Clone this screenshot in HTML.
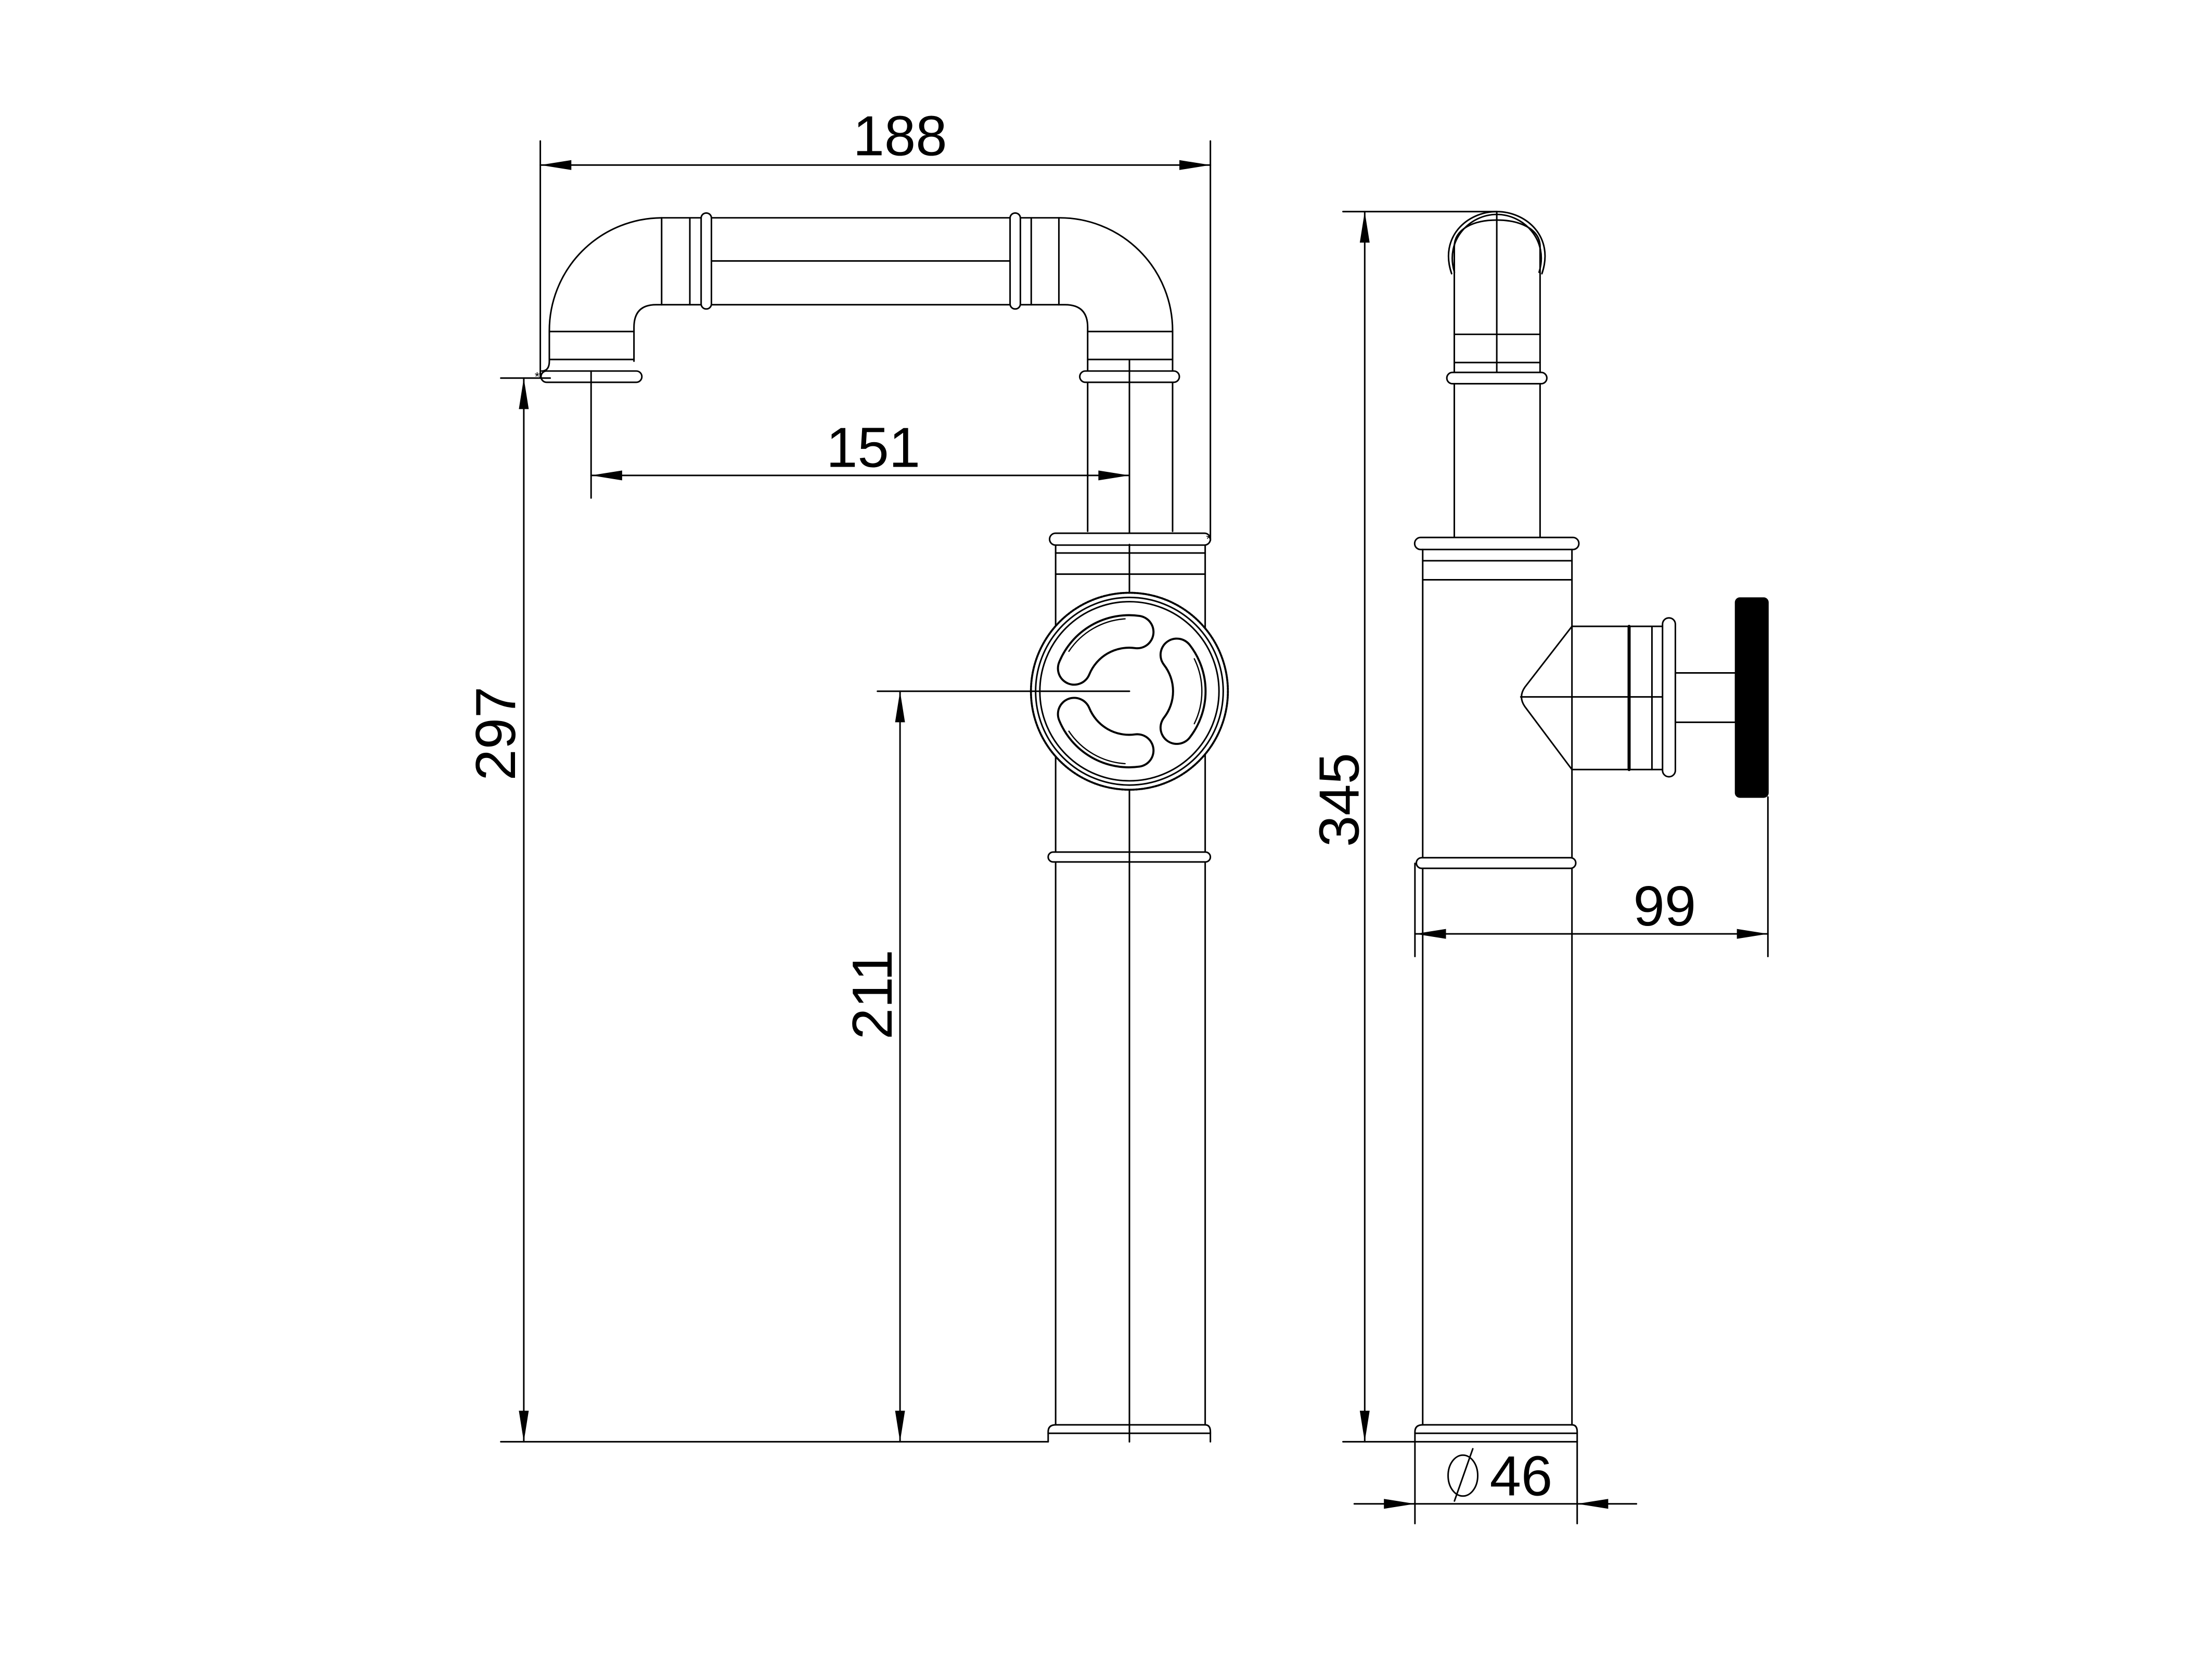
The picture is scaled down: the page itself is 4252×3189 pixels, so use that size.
<!DOCTYPE html>
<html><head><meta charset="utf-8"><style>
html,body{margin:0;padding:0;background:#fff;}
svg{display:block;}
text{font-family:"Liberation Sans",Arial,sans-serif;fill:#000;}
</style></head><body>
<svg width="4252" height="3189" viewBox="0 0 1568 1176" xmlns="http://www.w3.org/2000/svg">
<rect width="1568" height="1176" fill="#fff"/>
<g fill="none" stroke="#000" stroke-width="1.1" stroke-linejoin="round" stroke-linecap="round">
<line x1="383" y1="100" x2="383" y2="268"/>
<line x1="858" y1="100" x2="858" y2="383"/>
<line x1="383" y1="117" x2="858" y2="117"/>
<line x1="469" y1="154.4" x2="750.6" y2="154.4"/>
<line x1="469" y1="216" x2="750.6" y2="216"/>
<line x1="504.3" y1="185" x2="716" y2="185"/>
<line x1="469" y1="154.4" x2="469" y2="216"/>
<line x1="489" y1="154.4" x2="489" y2="216"/>
<line x1="731" y1="154.4" x2="731" y2="216"/>
<line x1="750.6" y1="154.4" x2="750.6" y2="216"/>
<rect x="497" y="151" width="7.3" height="68" rx="3.6" fill="#fff"/>
<rect x="716" y="151" width="7.3" height="68" rx="3.6" fill="#fff"/>
<path d="M469,154.4 A80,80 0 0 0 389.4,234.4 L389.4,256 Q389.4,263 384,263"/>
<path d="M449.4,256 L449.4,232 Q449.4,216 465,216 L469,216"/>
<line x1="389.4" y1="235" x2="449.4" y2="235"/>
<line x1="389.4" y1="254.8" x2="449.4" y2="254.8"/>
<rect x="383.5" y="263" width="71.5" height="8" rx="4" fill="#fff"/>
<path d="M750.6,154.4 A80,80 0 0 1 831.2,234.4 L831.2,376.6"/>
<path d="M771,376.6 L771,232 Q771,216 755,216 L750.6,216"/>
<line x1="771" y1="235" x2="831.2" y2="235"/>
<line x1="771" y1="254.8" x2="831.2" y2="254.8"/>
<rect x="765.4" y="263" width="70.6" height="8" rx="4" fill="#fff"/>
<line x1="800.6" y1="254.8" x2="800.6" y2="1022"/>
<line x1="419" y1="263" x2="419" y2="353"/>
<line x1="419" y1="337" x2="800.6" y2="337"/>
<rect x="744" y="378" width="114" height="8.4" rx="4.2" fill="#fff"/>
<line x1="748.3" y1="386.4" x2="748.3" y2="1010"/>
<line x1="854.3" y1="386.4" x2="854.3" y2="1010"/>
<line x1="748.3" y1="392" x2="854.3" y2="392"/>
<line x1="748.3" y1="407" x2="854.3" y2="407"/>
<rect x="743" y="604" width="115" height="7" rx="3.5" fill="#fff"/>
<path d="M743,1022 L743,1015 Q743,1010 748.3,1010 L854.3,1010 Q858,1010 858,1015 L858,1022"/>
<line x1="743" y1="1016" x2="858" y2="1016"/>
<line x1="800.6" y1="386" x2="800.6" y2="1022"/>
<circle cx="800.6" cy="490" r="69.8" fill="#fff" stroke-width="1.4" stroke-dasharray="1.2 0.8"/>
<circle cx="800.6" cy="490" r="66.5"/>
<circle cx="800.6" cy="490" r="63.5"/>
</g>
<g fill="none" stroke-linecap="round">
<g transform="translate(800.6,490)">
<g id="slot">
<path d="M33.6,-25.8 A42,42 0 0 1 33.6,25.8" stroke="#000" stroke-width="24.5"/>
<path d="M33.6,-25.8 A42,42 0 0 1 33.6,25.8" stroke="#fff" stroke-width="21.6"/>
<path d="M46,-23 A52,52 0 0 1 46,23" stroke="#000" stroke-width="0.9"/>
</g>
<use href="#slot" transform="rotate(-120)"/>
<use href="#slot" transform="rotate(120)"/>
</g>
</g>
<g fill="none" stroke="#000" stroke-width="1.1" stroke-linecap="round" stroke-linejoin="round">
<line x1="622" y1="490" x2="800.6" y2="490"/>
<line x1="355" y1="268" x2="390" y2="268"/>
<line x1="371.3" y1="268" x2="371.3" y2="1022"/>
<line x1="355" y1="1022" x2="743" y2="1022"/>
<line x1="638" y1="490" x2="638" y2="1022"/>

<line x1="952" y1="150" x2="1061" y2="150"/>
<line x1="967.4" y1="150" x2="967.4" y2="1022"/>
<line x1="952" y1="1022" x2="1003" y2="1022"/>
<path d="M1029,194 C1020,168 1040,150 1061,150 C1082,150 1102,168 1093,194"/>
<path d="M1031,193 C1024,170 1042,152 1061,152 C1080,152 1098,170 1091,193"/>
<path d="M1030.9,264 L1030.9,175 C1030.9,162 1045,156 1061,156 C1077,156 1091.7,162 1091.7,175 L1091.7,264"/>
<line x1="1061" y1="150" x2="1061" y2="264"/>
<line x1="1030.9" y1="237" x2="1091.7" y2="237"/>
<line x1="1030.9" y1="257" x2="1091.7" y2="257"/>
<rect x="1025.6" y="264" width="70.9" height="8" rx="4" fill="#fff"/>
<line x1="1030.9" y1="272" x2="1030.9" y2="381"/>
<line x1="1091.7" y1="272" x2="1091.7" y2="381"/>
<rect x="1002.8" y="381" width="116.4" height="8.5" rx="4.2" fill="#fff"/>
<line x1="1008.5" y1="389.5" x2="1008.5" y2="1010"/>
<line x1="1114.3" y1="389.5" x2="1114.3" y2="1010"/>
<line x1="1008.5" y1="397.5" x2="1114.3" y2="397.5"/>
<line x1="1008.5" y1="411" x2="1114.3" y2="411"/>
<path d="M1114.3,444 L1081,487 Q1076,494 1081,501 L1114.3,545.5"/>
<line x1="1114.3" y1="444" x2="1180" y2="444"/>
<line x1="1114.3" y1="545.5" x2="1180" y2="545.5"/>
<line x1="1078" y1="494" x2="1187.6" y2="494"/>
<line x1="1154.8" y1="444" x2="1154.8" y2="545.5" stroke-width="2.2"/>
<line x1="1171" y1="444" x2="1171" y2="545.5"/>
<rect x="1178.5" y="438" width="9.1" height="112.6" rx="4.5" fill="#fff"/>
<rect x="1187.6" y="477" width="42.7" height="35"/>
<rect x="1230.3" y="424" width="22.9" height="141" rx="3" fill="#000"/>
<rect x="1004" y="608" width="113" height="7.5" rx="3.7" fill="#fff"/>
<line x1="1003" y1="612" x2="1003" y2="678"/>
<line x1="1253.2" y1="565" x2="1253.2" y2="678"/>
<line x1="1003" y1="662" x2="1253.2" y2="662"/>
<path d="M1003,1022 L1003,1015 Q1003,1010 1008.5,1010 L1114.3,1010 Q1118,1010 1118,1015 L1118,1022"/>
<line x1="1003" y1="1016" x2="1118" y2="1016"/>
<line x1="1003" y1="1022" x2="1118" y2="1022"/>
<line x1="1003" y1="1022" x2="1003" y2="1080"/>
<line x1="1118" y1="1022" x2="1118" y2="1080"/>
<line x1="960" y1="1066" x2="1160" y2="1066"/>
<ellipse cx="1037" cy="1046" rx="10.5" ry="14.5"/>
<line x1="1031" y1="1064" x2="1044" y2="1027"/>
</g>
<g fill="#000">
<polygon points="383,117 405,113.5 405,120.5"/>
<polygon points="858,117 836,113.5 836,120.5"/>
<polygon points="419,337 441,333.5 441,340.5"/>
<polygon points="800.6,337 778.6,333.5 778.6,340.5"/>
<polygon points="371.3,268 367.8,290 374.8,290"/>
<polygon points="371.3,1022 367.8,1000 374.8,1000"/>
<polygon points="638,490 634.5,512 641.5,512"/>
<polygon points="638,1022 634.5,1000 641.5,1000"/>
<polygon points="967.4,150 963.9,172 970.9,172"/>
<polygon points="967.4,1022 963.9,1000 970.9,1000"/>
<polygon points="1003,662 1025,658.5 1025,665.5"/>
<polygon points="1253.2,662 1231.2,658.5 1231.2,665.5"/>
<polygon points="1003,1066 981,1062.5 981,1069.5"/>
<polygon points="1118,1066 1140,1062.5 1140,1069.5"/>
</g>
<g font-size="40">
<text x="638" y="110" text-anchor="middle">188</text>
<text x="619" y="331" text-anchor="middle">151</text>
<text x="1180" y="656" text-anchor="middle">99</text>
<text x="1056" y="1060">46</text>
<text transform="translate(365,520) rotate(-90)" text-anchor="middle">297</text>
<text transform="translate(632,705) rotate(-90)" text-anchor="middle">211</text>
<text transform="translate(963,567) rotate(-90)" text-anchor="middle">345</text>
</g>
<g font-size="9"><text x="379" y="270">*</text><text x="855" y="385">*</text></g>
</svg>
</body></html>
